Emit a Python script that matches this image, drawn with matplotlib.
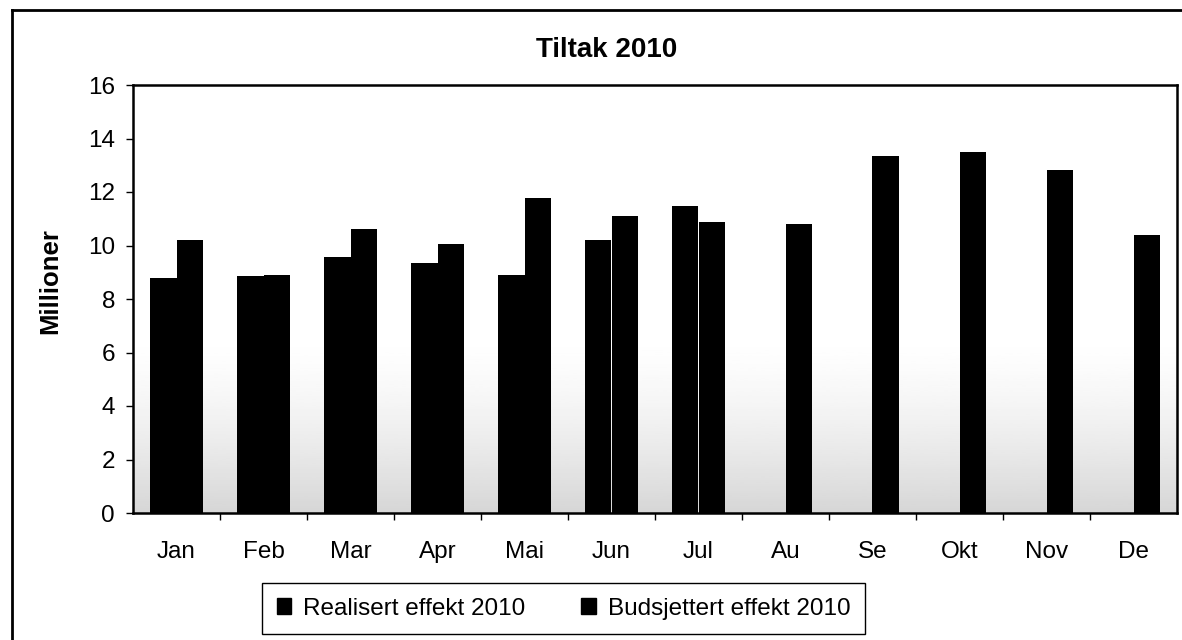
import numpy as np
import matplotlib.pyplot as plt
from matplotlib.patches import Patch

plt.rcParams['font.family'] = ['Liberation Sans', 'DejaVu Sans']

months = ['Jan', 'Feb', 'Mar', 'Apr', 'Mai', 'Jun', 'Jul', 'Au', 'Se', 'Okt', 'Nov', 'De']
realisert = [8.8, 8.87, 9.56, 9.34, 8.89, 10.2, 11.47]  # millioner, jan-jul
budsjettert = [10.2, 8.91, 10.63, 10.04, 11.77, 11.12, 10.87, 10.79, 13.35, 13.5, 12.82, 10.4]

fig = plt.figure(figsize=(11.82, 6.4), dpi=100)
ax = fig.add_axes([133 / 1182, 1 - 513 / 640, (1177 - 133) / 1182, (513 - 85) / 640])

x = np.arange(len(months))
w = 0.31

# grå toning nederst i plotteområdet (mørkest ved 0, borte rundt 6)
h = np.linspace(0, 1, 200)[:, None]
shade = 1 - 0.16 * np.clip(1 - h / 0.42, 0, None) ** 1.5
ax.imshow(shade, cmap='gray', vmin=0, vmax=1, aspect='auto',
          extent=[-0.5, len(months) - 0.5, 0, 16], origin='lower', zorder=0)

ax.bar(x[:len(realisert)] - w / 2, realisert, w, color='black', zorder=2)
ax.bar(x + w / 2, budsjettert, w, color='black', zorder=2)

ax.set_xlim(-0.5, len(months) - 0.5)
ax.set_ylim(0, 16)
ax.set_yticks(range(0, 17, 2))
ax.set_xticks(x)
ax.set_xticklabels(months)
ax.set_xticks(np.arange(0.5, len(months) - 0.5), minor=True)
ax.tick_params(axis='x', which='major', length=0, pad=20, labelsize=17.5)
ax.tick_params(axis='x', which='minor', length=5, width=1)
ax.tick_params(axis='y', length=5, width=1, pad=8, labelsize=17.5)
for s in ax.spines.values():
    s.set_linewidth(1.8)

fig.text(607 / 1182, 1 - 50 / 640, 'Tiltak 2010', ha='center', va='center',
         fontsize=20, fontweight='bold')
fig.text(50 / 1182, 1 - 281 / 640, 'Millioner', ha='center', va='center',
         rotation=90, fontsize=18.5, fontweight='bold')

handles = [Patch(color='black', label='Realisert effekt 2010'),
           Patch(color='black', label='Budsjettert effekt 2010')]
leg = fig.legend(handles=handles, loc='upper left', ncol=2,
                 bbox_to_anchor=(262 / 1182, 1 - 583 / 640), borderaxespad=0,
                 fontsize=17.5, handlelength=0.6, handleheight=0.6,
                 handletextpad=0.5, columnspacing=2.3, borderpad=0.6,
                 fancybox=False, framealpha=1)
leg.get_frame().set_edgecolor('black')
leg.get_frame().set_linewidth(1)

# ytre ramme rundt diagrammet
fig.add_artist(plt.Line2D([12 / 1182, 12 / 1182], [0, 1 - 10 / 640], color='black', lw=2))
fig.add_artist(plt.Line2D([12 / 1182, 1], [1 - 10 / 640, 1 - 10 / 640], color='black', lw=2))

fig.savefig('out.png', dpi=100)
